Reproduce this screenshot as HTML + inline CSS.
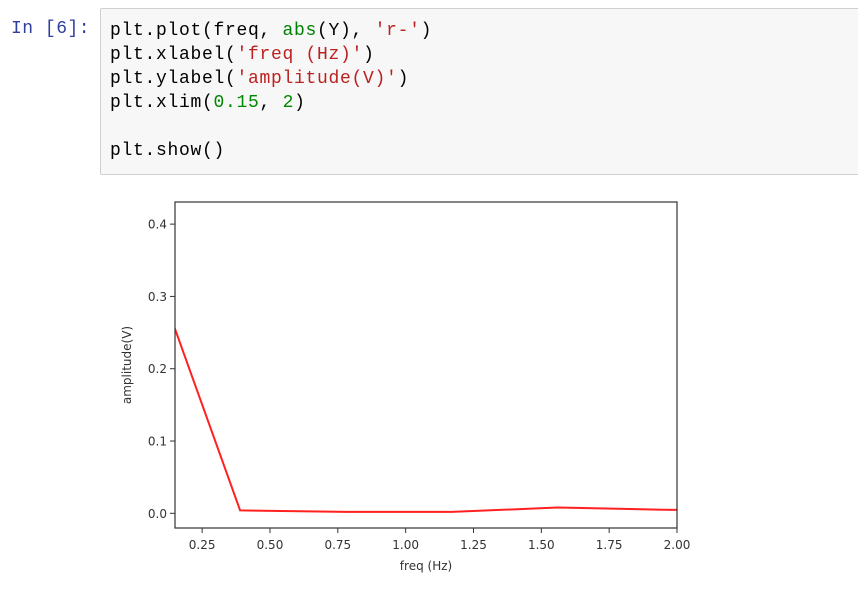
<!DOCTYPE html>
<html><head><meta charset="utf-8"><style>
body{margin:0;background:#fff;width:858px;height:597px;overflow:hidden;position:relative;font-family:"Liberation Sans",sans-serif}
.prompt{position:absolute;left:11px;top:19px;font:18px "Liberation Mono",monospace;letter-spacing:0.5px;color:#303f9f}
.cell{position:absolute;left:100px;top:8px;width:760px;height:167px;background:#f7f7f7;border:1px solid #cfcfcf;border-radius:2px;box-sizing:border-box}
.code{position:absolute;left:110px;top:19px;font:18px "Liberation Mono",monospace;letter-spacing:0.7px;line-height:24px;color:#000;white-space:pre;margin:0}
.k{color:#008000}.s{color:#ba2121}.n{color:#008800}
</style></head><body>
<div class="prompt">In [6]:</div>
<div class="cell"></div>
<pre class="code">plt.plot(freq, <span class="k">abs</span>(Y), <span class="s">'r-'</span>)
plt.xlabel(<span class="s">'freq (Hz)'</span>)
plt.ylabel(<span class="s">'amplitude(V)'</span>)
plt.xlim(<span class="n">0.15</span>, <span class="n">2</span>)

plt.show()</pre>
<svg id="chart" width="858" height="597" style="position:absolute;left:0;top:0"></svg>
<script>
const freqs=[0,0.39,0.78,1.17,1.56,1.95,2.34];
const amps=[0.412,0.004,0.002,0.002,0.008,0.005,0.003];
const xTicks=[0.25,0.5,0.75,1.0,1.25,1.5,1.75,2.0];
const xTickLabels=["0.25","0.50","0.75","1.00","1.25","1.50","1.75","2.00"];
const yTicks=[0,0.1,0.2,0.3,0.4];
const yTickLabels=["0.0","0.1","0.2","0.3","0.4"];
const L=175,R=677,T=202,B=528,x0=0.15,x1=2.0,y0=-0.0203,y1=0.4306;
const sx=v=>L+(v-x0)/(x1-x0)*(R-L);
const sy=v=>B-(v-y0)/(y1-y0)*(B-T);
const svg=document.getElementById('chart');
const NS='http://www.w3.org/2000/svg';
function mk(tag,attrs){const e=document.createElementNS(NS,tag);for(const k in attrs)e.setAttribute(k,attrs[k]);svg.appendChild(e);return e;}
const defs=mk('defs',{});
const cp=document.createElementNS(NS,'clipPath');cp.setAttribute('id','c');
const cr=document.createElementNS(NS,'rect');cr.setAttribute('x',L);cr.setAttribute('y',T);cr.setAttribute('width',R-L);cr.setAttribute('height',B-T);
cp.appendChild(cr);defs.appendChild(cp);
const line=mk('polyline',{points:freqs.map((f,i)=>sx(f)+','+sy(amps[i])).join(' '),fill:'none',stroke:'#ff2020','stroke-width':2,'clip-path':'url(#c)'});


const fr=mk('rect',{x:L,y:T,width:R-L,height:B-T,fill:'none',stroke:'#333','stroke-width':1.2});


xTicks.forEach((v,i)=>{const x=sx(v);
mk('line',{x1:x,x2:x,y1:B,y2:B+5,stroke:'#333'});
const t=mk('text',{x:x,y:B+21,'text-anchor':'middle','font-size':12,fill:'#333','font-family':'DejaVu Sans, sans-serif'});t.textContent=xTickLabels[i];

});
yTicks.forEach((v,i)=>{const y=sy(v);
mk('line',{x1:L-5,x2:L,y1:y,y2:y,stroke:'#333'});
const t=mk('text',{x:L-8,y:y+4.5,'text-anchor':'end','font-size':12,fill:'#333','font-family':'DejaVu Sans, sans-serif'});t.textContent=yTickLabels[i];

});
const xl=mk('text',{x:(L+R)/2,y:B+42,'text-anchor':'middle','font-size':12,fill:'#333','font-family':'DejaVu Sans, sans-serif'});xl.textContent='freq (Hz)';


const yl=mk('text',{x:0,y:0,transform:'translate(131,'+((T+B)/2)+') rotate(-90)','text-anchor':'middle','font-size':12,fill:'#333','font-family':'DejaVu Sans, sans-serif'});yl.textContent='amplitude(V)';


</script>
</body></html>
